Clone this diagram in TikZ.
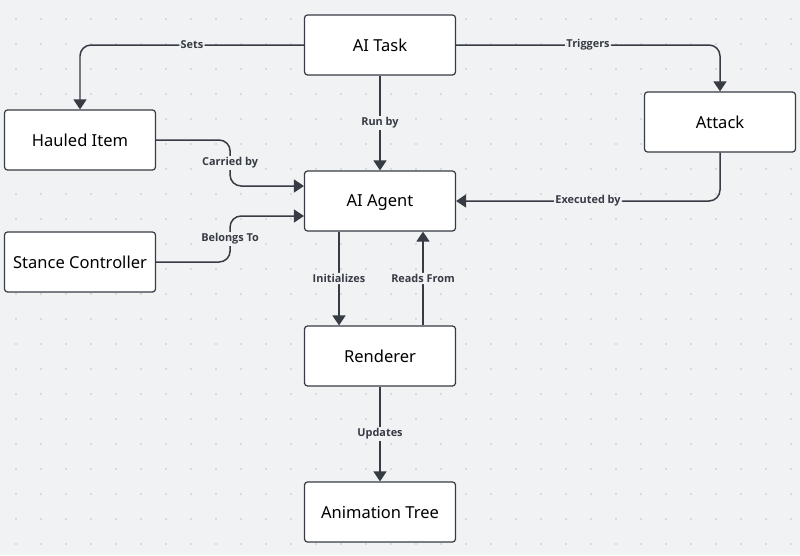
\documentclass[tikz,border=0pt]{standalone}
\usepackage{fontspec}
\setmainfont{Noto Sans}
\newfontfamily\lblfont{Open Sans}
\usetikzlibrary{arrows.meta, positioning}
\definecolor{canvas}{HTML}{F1F2F4}
\definecolor{griddot}{HTML}{BFC2C7}
\definecolor{ink}{HTML}{363B44}
\tikzset{block/.style = {draw=ink, fill=white, rounded corners=0.06cm,
            line width=0.7pt, minimum width=3.02cm, minimum height=1.2cm,
            text depth=0pt, font=\fontsize{9.4}{11}\selectfont, text=black},
         flow/.style = {draw=ink, line width=0.85pt, rounded corners=0.22cm,
            -{Triangle[length=0.2cm, width=0.26cm]}},
         lbl/.style = {fill=canvas, inner sep=0.8pt, text=ink,
            font=\lblfont\fontsize{6.2}{7}\selectfont\bfseries}}

\begin{document}
\begin{tikzpicture}[x=0.02cm, y=-0.02cm]
\fill[canvas] (0,0) rectangle (800,555);
\useasboundingbox (0,0) rectangle (800,555);
\foreach \gx in {16,41,...,800}
  \foreach \gy in {19,44,...,555}
    \fill[griddot] (\gx,\gy) circle (0.8);

\node[block] (task)     at (380,45)  {AI Task};
\node[block] (hauled)   at (80,140)  {Hauled Item};
\node[block] (attack)   at (720,122) {Attack};
\node[block] (agent)    at (380,201) {AI Agent};
\node[block] (stance)   at (80,262)  {Stance Controller};
\node[block] (renderer) at (380,356) {Renderer};
\node[block] (animtree) at (380,512) {Animation Tree};

\draw[flow] (task.west) -| node[lbl, pos=0.25] {Sets} (hauled.north);
\draw[flow] (task.east) -| node[lbl, pos=0.25] {Triggers} (attack.north);
\draw[flow] (task.south) -- node[lbl] {Run by} (agent.north);
\draw[flow] (hauled.east) -- ++(74,0) |- node[lbl, pos=0.25] {Carried by} ([yshift=0.3cm]agent.west);
\draw[flow] (stance.east) -- ++(74,0) |- node[lbl, pos=0.25] {Belongs To} ([yshift=-0.3cm]agent.west);
\draw[flow] (attack.south) |- node[lbl, pos=0.75] {Executed by} (agent.east);
\draw[flow] ([xshift=-0.82cm]agent.south) -- node[lbl] {Initializes} ([xshift=-0.82cm]renderer.north);
\draw[flow] ([xshift=0.86cm]renderer.north) -- node[lbl] {Reads From} ([xshift=0.86cm]agent.south);
\draw[flow] (renderer.south) -- node[lbl] {Updates} (animtree.north);
\end{tikzpicture}
\end{document}
